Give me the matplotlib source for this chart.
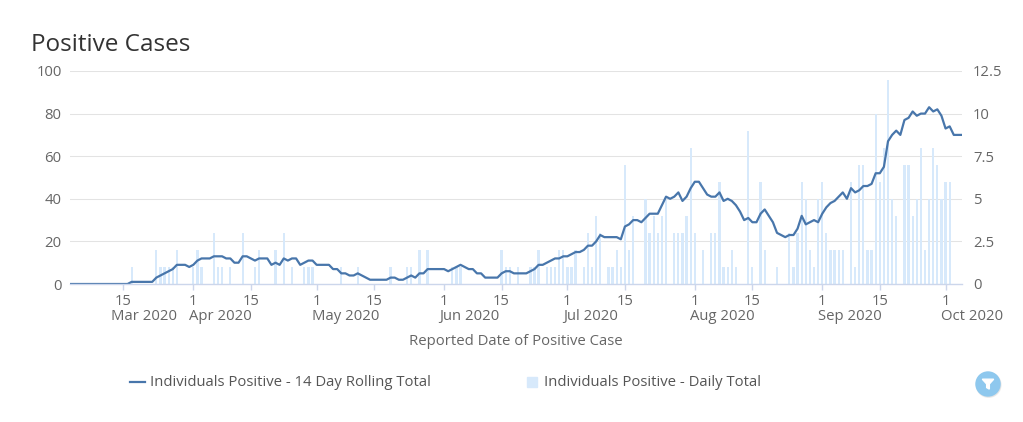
import numpy as np
import pandas as pd
import matplotlib
matplotlib.use("Agg")
import matplotlib.pyplot as plt
import matplotlib.dates as mdates
import matplotlib.transforms as mtransforms
from matplotlib.lines import Line2D
from matplotlib.patches import Rectangle, Circle, Polygon

# daily data, 2 Mar 2020 .. 5 Oct 2020, one row per week
dates = pd.date_range("2020-03-02", "2020-10-05", freq="D")

daily_total = [
    0, 0, 0, 0, 0, 0, 0,
    0, 0, 0, 0, 0, 0, 0,
    0, 1, 0, 0, 0, 0, 0,
    2, 1, 1, 1, 1, 2, 0,
    0, 0, 1, 2, 1, 0, 0,
    3, 1, 1, 0, 1, 0, 0,
    3, 0, 0, 1, 2, 0, 0,
    0, 2, 0, 3, 0, 1, 0,
    0, 1, 1, 1, 0, 0, 0,
    0, 0, 0, 1, 0, 0, 0,
    1, 0, 0, 0, 0, 0, 0,
    0, 1, 0, 0, 0, 1, 1,
    0, 2, 0, 2, 0, 0, 0,
    0, 0, 1, 1, 1, 0, 0,
    0, 0, 0, 0, 0, 0, 0,
    2, 1, 1, 0, 1, 0, 0,
    1, 1, 2, 0, 1, 1, 1,
    2, 2, 1, 1, 2, 0, 1,
    3, 1, 4, 3, 0, 1, 1,
    2, 1, 7, 2, 4, 0, 0,
    5, 3, 4, 3, 4, 5, 0,
    3, 3, 3, 4, 8, 3, 0,
    2, 0, 3, 3, 6, 1, 1,
    2, 1, 0, 0, 9, 1, 0,
    6, 2, 0, 0, 1, 0, 0,
    3, 1, 3, 6, 5, 2, 1,
    5, 6, 3, 2, 2, 2, 2,
    0, 6, 1, 7, 7, 2, 2,
    10, 6, 8, 12, 5, 4, 0,
    7, 7, 4, 5, 8, 2, 5,
    8, 7, 5, 6, 6, 0, 0,
    0,
]

rolling_14 = [
    0, 0, 0, 0, 0, 0, 0,
    0, 0, 0, 0, 0, 0, 0,
    0, 1, 1, 1, 1, 1, 1,
    3, 4, 5, 6, 7, 9, 9,
    9, 8, 9, 11, 12, 12, 12,
    13, 13, 13, 12, 12, 10, 10,
    13, 13, 12, 11, 12, 12, 12,
    9, 10, 9, 12, 11, 12, 12,
    9, 10, 11, 11, 9, 9, 9,
    9, 7, 7, 5, 5, 4, 4,
    5, 4, 3, 2, 2, 2, 2,
    2, 3, 3, 2, 2, 3, 4,
    3, 5, 5, 7, 7, 7, 7,
    7, 6, 7, 8, 9, 8, 7,
    7, 5, 5, 3, 3, 3, 3,
    5, 6, 6, 5, 5, 5, 5,
    6, 7, 9, 9, 10, 11, 12,
    12, 13, 13, 14, 15, 15, 16,
    18, 18, 20, 23, 22, 22, 22,
    22, 21, 27, 28, 30, 30, 29,
    31, 33, 33, 33, 37, 41, 40,
    41, 43, 39, 41, 45, 48, 48,
    45, 42, 41, 41, 43, 39, 40,
    39, 37, 34, 30, 31, 29, 29,
    33, 35, 32, 29, 24, 23, 22,
    23, 23, 26, 32, 28, 29, 30,
    29, 33, 36, 38, 39, 41, 43,
    40, 45, 43, 44, 46, 46, 47,
    52, 52, 55, 67, 70, 72, 70,
    77, 78, 81, 79, 80, 80, 83,
    81, 82, 79, 73, 74, 70, 70,
    70,
]

left_ticks = [0, 20, 40, 60, 80, 100]
right_ticks = [0, 2.5, 5, 7.5, 10, 12.5]
right_labels = ["0", "2.5", "5", "7.5", "10", "12.5"]
month_starts = ["2020-03-13", "2020-04-01", "2020-05-01", "2020-06-01",
                "2020-07-01", "2020-08-01", "2020-09-01", "2020-10-01"]
month_labels = ["Mar 2020", "Apr 2020", "May 2020", "Jun 2020",
                "Jul 2020", "Aug 2020", "Sep 2020", "Oct 2020"]

line_name = "Individuals Positive - 14 Day Rolling Total"
bar_name = "Individuals Positive - Daily Total"

LINE_COL = "#4876ab"
BAR_COL = "#d7e9fb"
GRID_COL = "#e3e3e3"
AXIS_COL = "#ccd6eb"
TXT_COL = "#666666"
FS = 10.75

plt.rcParams["font.family"] = ["Open Sans", "DejaVu Sans"]

W, H = 1023, 422
fig = plt.figure(figsize=(W / 100, H / 100), dpi=100)
ax = fig.add_axes([70 / W, 1 - 284 / H, (962 - 70) / W, (284 - 71) / H])
ax2 = ax.twinx()

# bars go on the right axis, which sits behind the line axis
ax.set_zorder(2)
ax2.set_zorder(1)
ax.patch.set_visible(False)

ax2.bar(dates, daily_total, width=0.55, color=BAR_COL, zorder=2)
ax2.set_ylim(0, 12.5)
ax2.set_yticks(right_ticks)
ax2.set_yticklabels(right_labels)
ax2.grid(axis="y", color=GRID_COL, linewidth=0.75, zorder=0)
ax2.set_axisbelow(True)

ax.plot(dates, rolling_14, color=LINE_COL, linewidth=1.6, solid_joinstyle="round")
ax.set_ylim(0, 100)
ax.set_yticks(left_ticks)
ax.set_xlim(dates[0], dates[-1])

for a in (ax, ax2):
    for s in a.spines.values():
        s.set_visible(False)
ax.spines["bottom"].set_visible(True)
ax.spines["bottom"].set_color(AXIS_COL)
ax.spines["bottom"].set_linewidth(1)

ax.tick_params(axis="y", length=0, pad=6, labelsize=FS, labelcolor=TXT_COL)
ax2.tick_params(axis="y", length=0, pad=8, labelsize=FS, labelcolor=TXT_COL)
ax2.tick_params(axis="x", bottom=False, labelbottom=False)

ax.xaxis.set_major_locator(mdates.DayLocator(bymonthday=[1, 15]))
ax.xaxis.set_major_formatter(
    plt.FuncFormatter(lambda v, p: str(mdates.num2date(v).day)))
ax.tick_params(axis="x", length=4, width=1, color=AXIS_COL, pad=3,
               labelsize=FS, labelcolor=TXT_COL)

trans = mtransforms.blended_transform_factory(ax.transData, ax.transAxes)
for m, lab in zip(month_starts, month_labels):
    ax.text(mdates.date2num(pd.Timestamp(m)) - 1.1, -0.153, lab,
            transform=trans, ha="left", va="center",
            fontsize=FS, color=TXT_COL)

ax.text(0.5, -0.268, "Reported Date of Positive Case", transform=ax.transAxes,
        ha="center", va="center", fontsize=FS, color=TXT_COL)

fig.text(31 / W, 1 - 51 / H, "Positive Cases", fontsize=17.5,
         color="#333333", va="baseline", ha="left")

# legend drawn by hand to sit where the original puts it
ly = 1 - 382 / H
fig.add_artist(Line2D([130 / W, 145 / W], [ly, ly], color=LINE_COL,
                      linewidth=1.6, transform=fig.transFigure))
fig.text(150 / W, ly, line_name, fontsize=FS, color="#555555", va="center")
fig.add_artist(Rectangle((527 / W, ly - 5 / H), 10 / W, 10 / H,
                         color=BAR_COL, transform=fig.transFigure))
fig.text(544 / W, ly, bar_name, fontsize=FS, color="#555555", va="center")

# filter button in the corner
iax = fig.add_axes([(988 - 15) / W, 1 - (384 + 15) / H, 30 / W, 30 / H])
iax.set_xlim(-1, 1)
iax.set_ylim(-1, 1)
iax.set_aspect("equal")
iax.axis("off")
iax.add_patch(Circle((0.04, -0.06), 0.82, color="#dddddd", alpha=0.6))
iax.add_patch(Circle((0, 0), 0.8, color="#8ec8ee"))
iax.add_patch(Polygon([(-0.38, 0.32), (0.38, 0.32), (0.09, 0.0), (0.09, -0.34),
                       (-0.09, -0.24), (-0.09, 0.0)], closed=True, color="white"))

fig.savefig("out.png", dpi=100, facecolor="white")
